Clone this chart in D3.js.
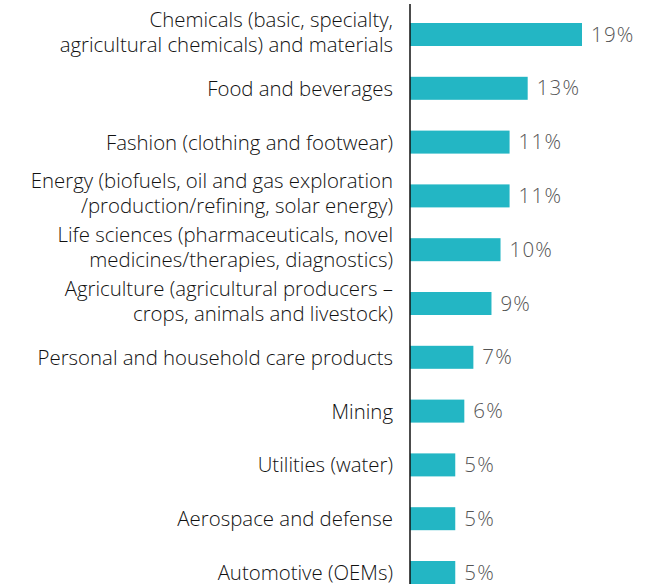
<!DOCTYPE html>
<html>
<head>
<meta charset="utf-8">
<script src="https://cdn.jsdelivr.net/npm/d3@7"></script>
<style>
  body { margin: 0; background: #fff; }
  text { font-family: "Open Sans", "Noto Sans", sans-serif; font-weight: 300; }
</style>
</head>
<body>
<script>
// chart data
var categories = [
  "Chemicals (basic, specialty,|agricultural chemicals) and materials",
  "Food and beverages",
  "Fashion (clothing and footwear)",
  "Energy (biofuels, oil and gas exploration|/production/refining, solar energy)",
  "Life sciences (pharmaceuticals, novel|medicines/therapies, diagnostics)",
  "Agriculture (agricultural producers –|crops, animals and livestock)",
  "Personal and household care products",
  "Mining",
  "Utilities (water)",
  "Aerospace and defense",
  "Automotive (OEMs)"
];
var values = [19, 13, 11, 11, 10, 9, 7, 6, 5, 5, 5];

var width = 661, height = 584;
var axisX = 410;

var svg = d3.select("body").append("svg")
  .attr("width", width)
  .attr("height", height);

var x = d3.scaleLinear().domain([0, 19]).range([axisX, axisX + 172]);
var y = d3.scalePoint().domain(categories).range([34.5, 572.5]);
var barH = 23;

// bars
svg.selectAll("rect.bar")
  .data(categories)
  .enter().append("rect")
  .attr("class", "bar")
  .attr("x", x(0))
  .attr("y", function(d) { return y(d) - barH / 2; })
  .attr("width", function(d, i) { return x(values[i]) - x(0); })
  .attr("height", barH)
  .style("fill", "#23b6c4");

// value labels
svg.selectAll("text.val")
  .data(categories)
  .enter().append("text")
  .attr("class", "val")
  .attr("x", function(d, i) { return x(values[i]) + 9; })
  .attr("y", function(d) { return y(d) + 7; })
  .style("font-size", "20.5px")
  .style("fill", "#555")
  .style("letter-spacing", "1.2px")
  .text(function(d, i) { return values[i] + "%"; });

// category labels
var lab = svg.selectAll("text.cat")
  .data(categories)
  .enter().append("text")
  .attr("class", "cat")
  .attr("text-anchor", "end")
  .style("font-size", "20.4px")
  .style("fill", "#111");

lab.each(function(d) {
  var lines = d.split("|");
  var t = d3.select(this);
  var c = y(d);
  lines.forEach(function(line, k) {
    var base = lines.length == 1 ? c + 7.5 : c - 8 + k * 25;
    t.append("tspan")
      .attr("x", 393)
      .attr("y", base)
      .text(line);
  });
});

// axis line
svg.append("line")
  .attr("x1", axisX).attr("x2", axisX)
  .attr("y1", 4).attr("y2", height)
  .style("stroke", "#111")
  .style("stroke-width", 1.5);
</script>
</body>
</html>
